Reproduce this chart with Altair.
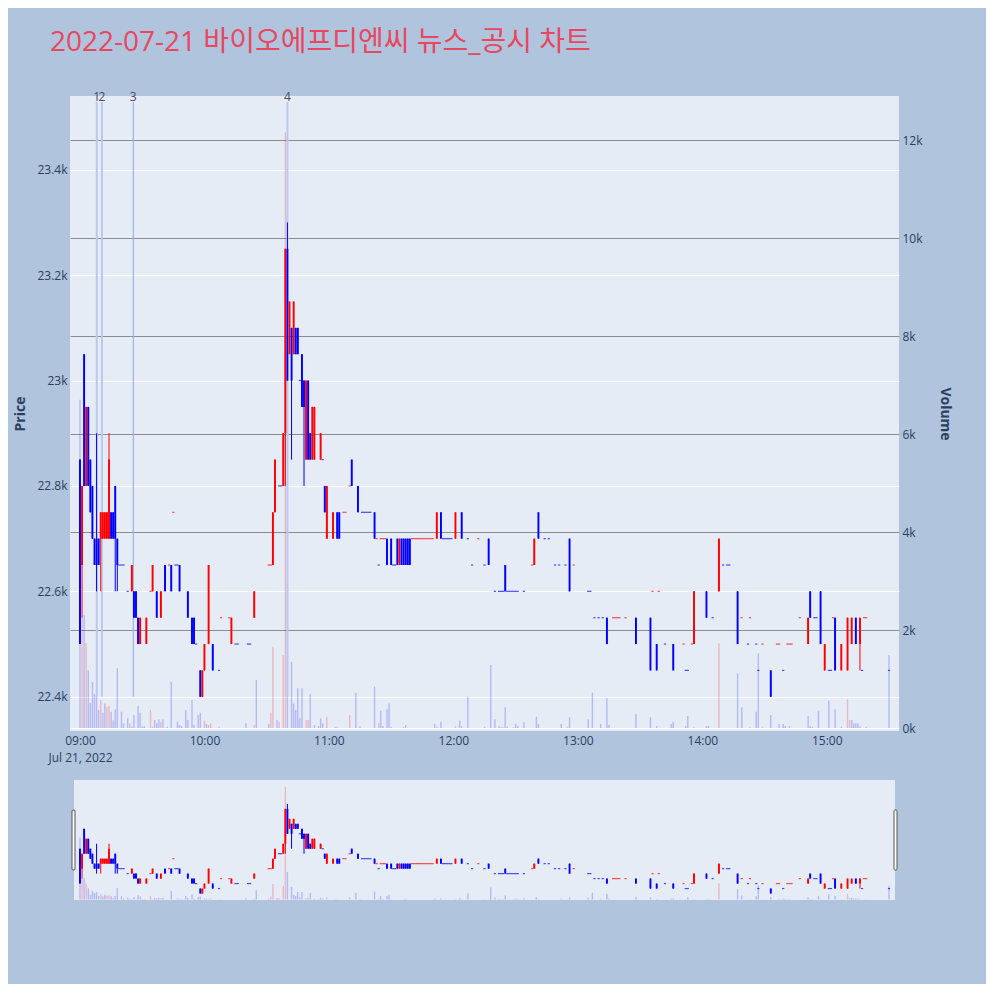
import json
import altair as alt
import pandas as pd

TITLE = "2022-07-21 바이오에프디엔씨 뉴스_공시 차트"
X_TICKS = [0, 60, 120, 180, 240, 300, 360]
X_TICK_LABELS = ["09:00", "10:00", "11:00", "12:00", "13:00", "14:00", "15:00"]
DATE_LABEL = "Jul 21, 2022"
PRICE_TICKS = [22400, 22600, 22800, 23000, 23200, 23400]
VOL_TICKS = [0, 2000, 4000, 6000, 8000, 10000, 12000]

# candles (minutes after 09:00)
C_MIN = [0, 1, 2, 3, 4, 5, 6, 7, 8, 9,
         10, 11, 12, 13, 14, 15, 16, 17, 18, 25,
         26, 27, 28, 29, 32, 35, 37, 39, 41, 44,
         48, 52, 54, 55, 58, 59, 60, 62, 64, 73,
         84, 93, 94, 98, 99, 100, 101, 102, 103, 104,
         105, 107, 108, 109, 110, 111, 112, 113, 116, 118,
         119, 122, 124, 125, 131, 134, 142, 148, 150, 153,
         154, 155, 156, 157, 158, 159, 172, 174, 181, 184,
         197, 205, 219, 221, 236, 254, 268, 275, 278, 286,
         296, 302, 308, 317, 333, 351, 352, 357, 359, 364,
         367, 370, 372, 374, 376]
C_OPEN = [22850, 22650, 23050, 22800, 22950, 22850, 22800, 22700, 22700, 22700,
          22700, 22700, 22700, 22700, 22700, 22750, 22750, 22800, 22700, 22600,
          22600, 22600, 22550, 22500, 22500, 22600, 22600, 22550, 22650, 22650,
          22650, 22600, 22550, 22550, 22450, 22400, 22450, 22500, 22500, 22500,
          22550, 22650, 22750, 22800, 22900, 23250, 23050, 23100, 23050, 23100,
          23100, 23050, 23000, 22850, 23000, 22900, 22850, 22850, 22850, 22800,
          22700, 22700, 22750, 22750, 22850, 22800, 22750, 22700, 22700, 22700,
          22650, 22700, 22700, 22700, 22700, 22700, 22700, 22750, 22700, 22750,
          22700, 22650, 22650, 22750, 22700, 22550, 22550, 22550, 22500, 22500,
          22500, 22600, 22600, 22600, 22450, 22500, 22600, 22600, 22450, 22550,
          22450, 22450, 22500, 22550, 22500]
C_HIGH = [22850, 22800, 23050, 22950, 22950, 22850, 22800, 22700, 22900, 22700,
          22750, 22750, 22750, 22750, 22900, 22750, 22750, 22800, 22700, 22650,
          22600, 22600, 22550, 22550, 22550, 22650, 22600, 22600, 22650, 22650,
          22650, 22600, 22550, 22550, 22450, 22450, 22500, 22650, 22500, 22550,
          22600, 22750, 22850, 22900, 23250, 23300, 23150, 23100, 23150, 23100,
          23100, 23050, 23000, 23000, 23000, 22900, 22950, 22950, 22900, 22800,
          22800, 22750, 22750, 22750, 22850, 22800, 22750, 22700, 22700, 22700,
          22700, 22700, 22700, 22700, 22700, 22700, 22750, 22750, 22750, 22750,
          22700, 22650, 22700, 22750, 22700, 22550, 22550, 22550, 22500, 22500,
          22600, 22600, 22700, 22600, 22450, 22550, 22600, 22600, 22500, 22550,
          22500, 22550, 22550, 22550, 22550]
C_LOW = [22500, 22550, 22800, 22800, 22800, 22750, 22700, 22650, 22600, 22650,
         22600, 22700, 22700, 22700, 22700, 22700, 22700, 22600, 22600, 22600,
         22550, 22550, 22500, 22500, 22500, 22600, 22550, 22550, 22600, 22600,
         22600, 22550, 22500, 22500, 22400, 22400, 22450, 22500, 22450, 22500,
         22550, 22650, 22750, 22800, 22800, 23000, 23050, 22850, 23050, 23050,
         23050, 22950, 22800, 22850, 22850, 22850, 22850, 22850, 22850, 22750,
         22700, 22700, 22700, 22700, 22800, 22750, 22700, 22650, 22650, 22650,
         22650, 22650, 22650, 22650, 22650, 22650, 22700, 22700, 22700, 22700,
         22650, 22600, 22650, 22700, 22600, 22500, 22500, 22450, 22450, 22450,
         22500, 22550, 22600, 22500, 22400, 22500, 22550, 22500, 22450, 22450,
         22450, 22450, 22500, 22500, 22450]
C_CLOSE = [22500, 22800, 22800, 22950, 22800, 22750, 22700, 22650, 22650, 22650,
           22750, 22750, 22750, 22750, 22850, 22700, 22700, 22700, 22650, 22650,
           22550, 22550, 22500, 22550, 22550, 22650, 22550, 22600, 22600, 22600,
           22600, 22550, 22500, 22500, 22400, 22450, 22500, 22650, 22450, 22550,
           22600, 22750, 22850, 22900, 23250, 23000, 23150, 23000, 23150, 23050,
           23050, 22950, 22950, 23000, 22850, 22850, 22950, 22950, 22900, 22750,
           22800, 22750, 22700, 22700, 22800, 22750, 22700, 22650, 22650, 22650,
           22700, 22650, 22650, 22650, 22650, 22650, 22750, 22700, 22750, 22700,
           22650, 22600, 22700, 22700, 22600, 22500, 22500, 22450, 22450, 22450,
           22600, 22550, 22700, 22500, 22400, 22550, 22550, 22500, 22500, 22450,
           22500, 22550, 22550, 22500, 22550]

# single-price minutes (open == close)
D_MIN = [19, 20, 21, 23, 34, 43, 45, 46, 47, 56,
         67, 68, 72, 75, 76, 81, 82, 91, 92, 96,
         97, 106, 117, 127, 128, 130, 136, 137, 138, 139,
         140, 143, 144, 145, 146, 147, 151, 152, 160, 161,
         162, 163, 164, 165, 166, 167, 168, 169, 170, 175,
         176, 177, 178, 179, 187, 189, 192, 195, 200, 202,
         203, 204, 206, 207, 208, 209, 210, 211, 214, 218,
         224, 226, 229, 231, 234, 238, 245, 246, 248, 250,
         252, 257, 258, 259, 260, 263, 276, 279, 282, 291,
         292, 293, 295, 305, 310, 312, 313, 319, 322, 323,
         326, 327, 329, 336, 337, 339, 341, 342, 343, 347,
         354, 355, 361, 362, 363, 377, 378, 379, 390]
D_PRICE = [22650, 22650, 22650, 22600, 22600, 22650, 22750, 22650, 22650, 22500,
           22450, 22550, 22550, 22500, 22500, 22500, 22500, 22650, 22650, 22800,
           22800, 23000, 22850, 22750, 22750, 22800, 22750, 22750, 22750, 22750,
           22750, 22700, 22650, 22700, 22700, 22700, 22650, 22650, 22700, 22700,
           22700, 22700, 22700, 22700, 22700, 22700, 22700, 22700, 22700, 22700,
           22700, 22700, 22700, 22700, 22700, 22650, 22700, 22650, 22600, 22600,
           22600, 22600, 22600, 22600, 22600, 22600, 22600, 22600, 22600, 22650,
           22700, 22700, 22650, 22650, 22650, 22650, 22600, 22600, 22550, 22550,
           22550, 22550, 22550, 22550, 22550, 22550, 22600, 22600, 22500, 22500,
           22450, 22450, 22500, 22550, 22650, 22650, 22650, 22550, 22500, 22550,
           22500, 22450, 22500, 22500, 22500, 22450, 22500, 22500, 22500, 22550,
           22550, 22550, 22450, 22450, 22550, 22450, 22550, 22550, 22450]
D_UP = [0, 0, 0, 0, 1, 1, 1, 0, 0, 0,
        0, 1, 1, 0, 0, 0, 0, 1, 1, 0,
        0, 0, 0, 1, 1, 1, 0, 0, 0, 0,
        0, 1, 0, 1, 1, 1, 0, 0, 1, 1,
        1, 1, 1, 1, 1, 1, 1, 1, 1, 0,
        0, 0, 0, 0, 0, 0, 1, 0, 0, 0,
        0, 0, 0, 0, 0, 0, 0, 0, 0, 1,
        0, 0, 0, 0, 0, 1, 0, 0, 0, 0,
        0, 1, 1, 1, 1, 1, 1, 1, 0, 1,
        0, 0, 1, 0, 0, 0, 0, 1, 0, 1,
        0, 0, 1, 1, 1, 0, 1, 1, 1, 1,
        0, 0, 0, 0, 1, 0, 1, 1, 0]

# volume
V_MIN = [0, 1, 2, 3, 4, 5, 6, 7, 8, 9,
         10, 11, 12, 13, 14, 15, 16, 17, 18, 20,
         21, 23, 24, 25, 26, 28, 29, 30, 31, 34,
         35, 36, 37, 38, 39, 40, 42, 44, 47, 48,
         49, 51, 52, 54, 55, 57, 58, 60, 61, 62,
         63, 67, 80, 84, 85, 91, 92, 93, 95, 96,
         98, 99, 100, 102, 103, 104, 105, 106, 107, 109,
         110, 111, 113, 115, 116, 117, 119, 123, 124, 130,
         133, 135, 142, 144, 145, 146, 148, 149, 150, 156,
         157, 171, 172, 174, 181, 183, 184, 187, 195, 198,
         200, 202, 203, 204, 205, 206, 209, 210, 211, 214,
         220, 221, 232, 235, 236, 245, 247, 251, 254, 255,
         268, 275, 278, 285, 286, 292, 293, 296, 302, 303,
         308, 317, 319, 323, 326, 327, 329, 333, 337, 339,
         340, 342, 351, 352, 353, 356, 361, 364, 367, 370,
         371, 372, 373, 374, 375, 376, 379, 390]
V_VOL = [6700, 2260, 2300, 1730, 1180, 510, 940, 690, 810, 370,
         570, 310, 500, 435, 450, 333, 160, 380, 1220, 333,
         95, 200, 95, 30, 265, 450, 313, 27, 41, 367,
         27, 163, 95, 180, 130, 180, 27, 945, 130, 61,
         41, 367, 163, 570, 61, 265, 313, 150, 82, 61,
         95, 27, 95, 61, 980, 82, 313, 1660, 163, 129,
         1490, 12160, 2960, 1350, 500, 367, 810, 197, 810, 163,
         163, 690, 61, 41, 197, 95, 230, 27, 27, 265,
         721, 41, 843, 95, 354, 41, 381, 503, 27, 14,
         61, 82, 27, 129, 41, 150, 41, 639, 27, 1285,
         177, 41, 14, 14, 422, 27, 14, 82, 41, 116,
         231, 82, 82, 27, 218, 177, 721, 82, 605, 61,
         286, 218, 41, 82, 129, 41, 245, 27, 41, 41,
         1727, 1115, 422, 27, 333, 1523, 27, 265, 82, 82,
         41, 41, 245, 41, 27, 354, 558, 381, 27, 585,
         163, 163, 95, 95, 95, 27, 27, 1489]
V_UP = [0, 1, 0, 1, 0, 0, 0, 0, 0, 0,
        1, 0, 0, 1, 1, 0, 0, 0, 0, 0,
        0, 0, 1, 0, 0, 0, 0, 0, 0, 1,
        1, 0, 0, 0, 1, 0, 0, 0, 0, 0,
        0, 0, 0, 0, 0, 0, 0, 1, 0, 1,
        1, 0, 0, 1, 0, 0, 1, 1, 0, 1,
        1, 1, 0, 0, 0, 0, 0, 0, 0, 1,
        1, 0, 0, 0, 0, 0, 1, 0, 0, 1,
        0, 0, 0, 1, 0, 0, 0, 0, 0, 0,
        0, 0, 1, 0, 1, 0, 0, 0, 0, 0,
        0, 0, 0, 0, 0, 0, 0, 0, 0, 0,
        0, 0, 0, 1, 0, 0, 0, 0, 0, 0,
        0, 0, 0, 0, 0, 0, 0, 1, 0, 0,
        1, 0, 0, 1, 0, 0, 1, 0, 0, 0,
        0, 0, 0, 0, 0, 0, 0, 0, 0, 1,
        1, 0, 0, 0, 0, 0, 0, 0]

# news / disclosure markers
N_MIN = [8.1, 10.6, 25.7, 100.0]
N_LABEL = ["1", "2", "3", "4"]

# ---- styles ----
RED, BLUE = "#ff0000", "#0000ff"
N_COLORS = ["#b9c9f1", "#b9c9f1", "#93a6de", "#b9c9f1"]
N_WIDTHS = [2, 2, 1, 2]
X_DOMAIN = [-2.4, 392.4]
PRICE_DOMAIN = [22335, 23540]
VOL_DOMAIN = [-61, 12898]
W, H_MAIN, H_MINI = 829, 635, 120
FONT = "Open Sans"
TXT = "#2a3f5f"

candles = pd.DataFrame({"m": C_MIN, "o": C_OPEN, "h": C_HIGH, "l": C_LOW, "c": C_CLOSE})
candles["col"] = [RED if c > o else BLUE for o, c in zip(C_OPEN, C_CLOSE)]
doji = pd.DataFrame({"m": D_MIN, "p": D_PRICE})
doji["col"] = [RED if u else BLUE for u in D_UP]
vol = pd.DataFrame({"m": V_MIN, "v": V_VOL})
vol["v0"] = 0
vol["col"] = [RED if u else BLUE for u in V_UP]
news = pd.DataFrame({"m": N_MIN, "label": N_LABEL})
news["base"] = min(C_LOW)
news["col"] = N_COLORS
news["w"] = N_WIDTHS
one = pd.DataFrame({"a": [0]})

xscale = alt.Scale(domain=X_DOMAIN, nice=False, zero=False)
pscale = alt.Scale(domain=PRICE_DOMAIN, nice=False, zero=False)
vscale = alt.Scale(domain=VOL_DOMAIN, nice=False, zero=False)

label_expr = "datum.value == 0 ? [%s, %s] : %s[round(datum.value / 60)]" % (
    json.dumps(X_TICK_LABELS[0]), json.dumps(DATE_LABEL), json.dumps(X_TICK_LABELS))

x_axis = alt.Axis(values=X_TICKS, labelExpr=label_expr, grid=False, domain=False,
                  ticks=False, labelPadding=4, labelLineHeight=17, title=None,
                  labelFontSize=12, labelColor=TXT, labelFont=FONT)
price_axis = alt.Axis(orient="left", values=PRICE_TICKS, format=".3~s", grid=True,
                      gridColor="white", gridWidth=1, domain=False, ticks=False,
                      labelPadding=3, minExtent=40, maxExtent=40, title="Price",
                      titlePadding=3)
vol_axis = alt.Axis(orient="right", values=VOL_TICKS, format="~s", grid=True,
                    gridColor={"condition": {"test": "datum.value === 0", "value": "white"},
                               "value": "#8c8c8c"},
                    gridWidth=1, domain=False, ticks=False, labelPadding=3,
                    minExtent=30, maxExtent=30, title="Volume", titlePadding=8)

col = alt.Color("col:N", scale=None)


def build(show_axes):
    xa = x_axis if show_axes else None
    pa = price_axis if show_axes else None
    va = vol_axis if show_axes else None
    X = alt.X("m:Q", scale=xscale, axis=xa)
    vol_l = alt.Chart(vol).mark_bar(size=1.4, opacity=0.22).encode(
        x=X, y=alt.Y("v:Q", scale=vscale, axis=va), y2="v0:Q", color=col)
    wick = alt.Chart(candles).mark_rule(strokeWidth=1).encode(
        x=X, y=alt.Y("l:Q", scale=pscale, axis=pa), y2="h:Q", color=col)
    body = alt.Chart(candles).mark_bar(size=1.9).encode(
        x=X, y=alt.Y("o:Q", scale=pscale, axis=pa), y2="c:Q", color=col)
    dj = alt.Chart(doji).mark_tick(orient="horizontal", size=2.2, thickness=1.2).encode(
        x=X, y=alt.Y("p:Q", scale=pscale, axis=pa), color=col)
    layers = [wick, body, dj]
    if show_axes:
        vl = alt.Chart(news).mark_rule().encode(
            x=X, y=alt.Y("base:Q", scale=pscale, axis=pa), y2=alt.value(6),
            color=col, strokeWidth=alt.StrokeWidth("w:Q", scale=None))
        tl = alt.Chart(news).mark_text(baseline="middle", fontSize=12, color="#4a4a5a",
                                       font=FONT).encode(x=X, y=alt.value(1), text="label:N")
        layers = [vl] + layers + [tl]
    price = alt.layer(*layers)
    return vol_l, price


vol_main, price_main = build(True)
main = alt.layer(vol_main, price_main).resolve_scale(y="independent").properties(
    width=W, height=H_MAIN, view=alt.ViewBackground(fill="#e5ecf6", strokeWidth=0))

vol_mini, price_mini = build(False)
bg = alt.Chart(one).mark_rect(color="#e5ecf6").encode(
    x=alt.value(4), x2=alt.value(825), y=alt.value(0), y2=alt.value(H_MINI))
h1 = alt.Chart(one).mark_rect(fill="white", stroke="#555555", strokeWidth=1, cornerRadius=1).encode(
    x=alt.value(2), x2=alt.value(5), y=alt.value(30), y2=alt.value(90))
h2 = alt.Chart(one).mark_rect(fill="white", stroke="#555555", strokeWidth=1, cornerRadius=1).encode(
    x=alt.value(824), x2=alt.value(827), y=alt.value(30), y2=alt.value(90))
mini = alt.layer(bg, vol_mini, price_mini, h1, h2).resolve_scale(y="independent").properties(
    width=W, height=H_MINI, view=alt.ViewBackground(fill="transparent", strokeWidth=0))

chart = alt.vconcat(main, mini, spacing=49, bounds="flush").properties(
    title=alt.TitleParams(TITLE, anchor="start", frame="group", dx=-20, offset=34,
                          fontSize=28, font="Open Sans, Noto Sans CJK KR",
                          fontWeight="normal", color="#e8475f"),
    background="#b0c4de",
    padding={"top": 21, "left": 5, "right": 35, "bottom": 84},
).configure_axis(
    labelFont=FONT, labelColor=TXT, labelFontSize=12,
    titleFont=FONT, titleColor=TXT, titleFontSize=14, titleFontWeight="bold",
).configure_view(strokeWidth=0)

chart.save("out.html", embed_options={"renderer": "svg", "actions": False})
